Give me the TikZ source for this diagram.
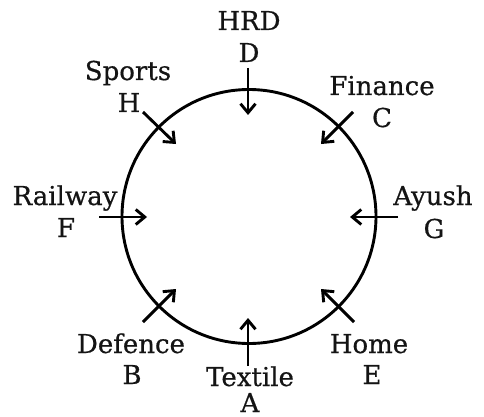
\documentclass[tikz,border=0pt]{standalone}
\usepackage{fontspec}
\setmainfont{DejaVu Serif}[FakeBold=0.6]
\usetikzlibrary{arrows.meta}
\begin{document}
\begin{tikzpicture}[x=1pt,y=-1pt,
  lbl/.style={anchor=base,inner sep=0pt,font=\fontsize{26}{30}\selectfont,text=black!92},
  arr/.style={line width=2.9pt,-{Straight Barb[length=9pt,width=15pt]}},
  ring/.style={line width=2.9pt}]
\useasboundingbox (0,0) rectangle (484,417);
\draw[ring] (249,216.5) circle (127);
\coordinate (ctr) at (249,216.5);
% labels
\node[lbl] (hrd) at (249,30) {HRD};
\node[lbl] (d) at (249,62) {D};
\node[lbl] (sports) at (128,80) {Sports};
\node[lbl] (h) at (129,112) {H};
\node[lbl] (fin) at (382,95) {Finance};
\node[lbl] (c) at (382,127) {C};
\node[lbl] (rail) at (65,205) {Railway};
\node[lbl] (f) at (66,237) {F};
\node[lbl] (ayush) at (433,205) {Ayush};
\node[lbl] (g) at (434,238) {G};
\node[lbl] (def) at (131,353) {Defence};
\node[lbl] (b) at (132,384) {B};
\node[lbl] (tex) at (250,386) {Textile};
\node[lbl] (a) at (250,412) {A};
\node[lbl] (home) at (369,353) {Home};
\node[lbl] (e) at (372,384) {E};
% arrow ends
\coordinate (d1) at (248,68);   \coordinate (d2) at (248,115);
\coordinate (a1) at (248,366);  \coordinate (a2) at (248,318);
\coordinate (f1) at (99,217);   \coordinate (f2) at (147,217);
\coordinate (g1) at (398,217);  \coordinate (g2) at (350,217);
\coordinate (h1) at (143,112);  \coordinate (h2) at (176,144);
\coordinate (c1) at (353,112);  \coordinate (c2) at (321,144);
\coordinate (b1) at (143,322);  \coordinate (b2) at (176,289);
\coordinate (e1) at (354,322);  \coordinate (e2) at (321,289);
\foreach \s in {d,a,f,g,h,c,b,e} \draw[arr] (\s1) -- (\s2);
\end{tikzpicture}
\end{document}
